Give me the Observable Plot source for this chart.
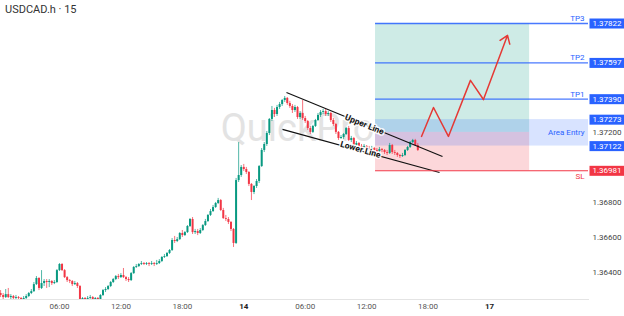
<!DOCTYPE html>
<html><head><meta charset="utf-8">
<script src="https://cdn.jsdelivr.net/npm/d3@7"></script>
<script src="https://cdn.jsdelivr.net/npm/@observablehq/plot@0.6"></script>
<style>
body{margin:0;background:#fff;}
#wrap{position:relative;width:624px;height:316px;font-family:Roboto,sans-serif;}
#title{position:absolute;left:5px;top:3px;font-size:11px;color:#333;z-index:2;}
</style></head><body>
<div id="wrap"><div id="title">USDCAD.h · 15</div></div>
<script>
// ---- chart values ----
const firstBarHour = 0.25;   // 00:15 on the 13th
const barHours = 0.25;       // 15-minute bars
const firstOpen = 1.36280;
const close = [
1.36269,1.36257,1.36274,1.36257,1.36263,1.36252,1.36257,1.36252,1.36246,1.36252,
1.36263,1.36280,1.36291,1.36331,1.36366,1.36309,1.36337,1.36349,1.36343,1.36349,
1.36337,1.36343,1.36411,1.36446,1.36411,1.36371,1.36354,1.36349,1.36331,1.36337,
1.36320,1.36246,1.36252,1.36246,1.36252,1.36257,1.36246,1.36252,1.36246,1.36269,
1.36297,1.36303,1.36320,1.36343,1.36360,1.36377,1.36371,1.36383,1.36371,1.36360,
1.36354,1.36394,1.36429,1.36434,1.36446,1.36451,1.36446,1.36451,1.36446,1.36451,
1.36446,1.36451,1.36463,1.36486,1.36491,1.36509,1.36526,1.36583,1.36577,1.36588,
1.36623,1.36611,1.36628,1.36663,1.36703,1.36628,1.36634,1.36623,1.36640,1.36668,
1.36691,1.36726,1.36748,1.36771,1.36794,1.36811,1.36754,1.36708,1.36703,1.36686,
1.36646,1.36566,1.36925,1.36954,1.37000,1.36988,1.36971,1.36903,1.36857,1.36891,
1.36920,1.37005,1.37097,1.37131,1.37194,1.37274,1.37325,1.37302,1.37342,1.37359,
1.37382,1.37394,1.37365,1.37348,1.37325,1.37342,1.37285,1.37308,1.37279,1.37262,
1.37222,1.37200,1.37234,1.37268,1.37297,1.37314,1.37319,1.37302,1.37308,1.37268,
1.37245,1.37200,1.37165,1.37171,1.37188,1.37222,1.37154,1.37165,1.37125,1.37137,
1.37120,1.37114,1.37120,1.37108,1.37102,1.37108,1.37097,1.37091,1.37102,1.37097,
1.37085,1.37080,1.37125,1.37085,1.37080,1.37068,1.37062,1.37068,1.37097,1.37114,
1.37142,1.37154,1.37125,1.37097
];
const high = [
1.36297,1.36280,1.36303,1.36309,1.36274,1.36269,1.36269,1.36263,1.36257,1.36263,
1.36274,1.36286,1.36303,1.36343,1.36377,1.36371,1.36411,1.36360,1.36360,1.36360,
1.36354,1.36354,1.36417,1.36451,1.36451,1.36417,1.36377,1.36360,1.36354,1.36349,
1.36343,1.36326,1.36257,1.36257,1.36263,1.36269,1.36263,1.36257,1.36257,1.36274,
1.36303,1.36314,1.36326,1.36349,1.36366,1.36383,1.36389,1.36394,1.36423,1.36377,
1.36371,1.36400,1.36434,1.36446,1.36451,1.36463,1.36457,1.36457,1.36457,1.36463,
1.36457,1.36469,1.36474,1.36491,1.36503,1.36514,1.36531,1.36594,1.36606,1.36600,
1.36628,1.36640,1.36634,1.36668,1.36708,1.36714,1.36646,1.36646,1.36651,1.36674,
1.36703,1.36731,1.36760,1.36783,1.36800,1.36823,1.36817,1.36766,1.36726,1.36714,
1.36691,1.36651,1.36937,1.37142,1.37011,1.37017,1.37000,1.36977,1.36908,1.36897,
1.36931,1.37011,1.37108,1.37142,1.37205,1.37279,1.37348,1.37337,1.37354,1.37371,
1.37388,1.37405,1.37399,1.37377,1.37359,1.37354,1.37348,1.37319,1.37382,1.37291,
1.37268,1.37234,1.37240,1.37274,1.37308,1.37325,1.37331,1.37331,1.37319,1.37314,
1.37279,1.37251,1.37205,1.37182,1.37194,1.37228,1.37234,1.37177,1.37171,1.37148,
1.37142,1.37131,1.37131,1.37125,1.37120,1.37120,1.37114,1.37108,1.37114,1.37108,
1.37102,1.37097,1.37137,1.37131,1.37097,1.37085,1.37074,1.37080,1.37102,1.37120,
1.37148,1.37160,1.37160,1.37137
];
const low = [
1.36257,1.36246,1.36252,1.36252,1.36246,1.36246,1.36246,1.36246,1.36246,1.36246,
1.36246,1.36257,1.36274,1.36286,1.36326,1.36297,1.36303,1.36320,1.36309,1.36314,
1.36326,1.36331,1.36337,1.36406,1.36406,1.36366,1.36343,1.36337,1.36320,1.36326,
1.36309,1.36246,1.36246,1.36246,1.36246,1.36246,1.36246,1.36246,1.36246,1.36246,
1.36263,1.36286,1.36297,1.36314,1.36337,1.36354,1.36360,1.36366,1.36366,1.36349,
1.36343,1.36349,1.36389,1.36423,1.36429,1.36440,1.36440,1.36440,1.36434,1.36440,
1.36434,1.36440,1.36446,1.36457,1.36480,1.36486,1.36503,1.36520,1.36566,1.36571,
1.36583,1.36600,1.36606,1.36623,1.36657,1.36617,1.36617,1.36611,1.36617,1.36634,
1.36663,1.36686,1.36720,1.36743,1.36766,1.36788,1.36748,1.36703,1.36691,1.36674,
1.36634,1.36543,1.36560,1.36914,1.36943,1.36977,1.36960,1.36891,1.36811,1.36845,
1.36880,1.36908,1.37000,1.37085,1.37120,1.37182,1.37262,1.37285,1.37291,1.37331,
1.37348,1.37371,1.37354,1.37337,1.37308,1.37314,1.37274,1.37274,1.37268,1.37251,
1.37211,1.37188,1.37194,1.37228,1.37262,1.37285,1.37302,1.37291,1.37291,1.37257,
1.37234,1.37188,1.37154,1.37160,1.37160,1.37182,1.37148,1.37142,1.37114,1.37120,
1.37108,1.37102,1.37108,1.37097,1.37091,1.37097,1.37085,1.37080,1.37085,1.37085,
1.37074,1.37068,1.37074,1.37074,1.37068,1.37057,1.37051,1.37057,1.37062,1.37091,
1.37108,1.37137,1.37120,1.37091
];

// trade setup
const levelNames = ["TP3", "TP2", "TP1"];
const levelPrices = [1.37822, 1.37597, 1.37390];
const entryTop = 1.37273;
const entryPrice = 1.37200;
const entryBottom = 1.37122;
const stopPrice = 1.36981;
const zoneStartHour = 36.87;
const zoneEndHour = 51.92;

// channel lines (hour, price)
const upperLine = {t1: 28.17, p1: 1.37428, t2: 43.41, p2: 1.37062};
const lowerLine = {t1: 27.78, p1: 1.37217, t2: 43.12, p2: 1.36971};
const upperLabel = {t: 35.79, p: 1.37245, text: "Upper Line"};
const lowerLabel = {t: 35.40, p: 1.37102, text: "Lower Line"};

// projected path
const pathHours  = [41.36, 42.53, 43.99, 46.14, 47.41, 49.76];
const pathPrices = [1.37177, 1.37342, 1.37177, 1.37497, 1.37388, 1.37754];

// axis
const xTicks = [6, 12, 18, 24, 30, 36, 42, 48];
const xTickLabels = ["06:00", "12:00", "18:00", "14", "06:00", "12:00", "18:00", "17"];
const xDayTicks = [24, 48];
const yTicks = [1.364, 1.366, 1.368, 1.372];
const watermark = {t: 29.25, p: 1.37222, text: "QuickPro"};

// ---- build ----
const xDomain = [0.24, 57.67];
const yDomain = [1.36246, 1.37953];
const GREEN = "#089981", RED = "#f23645", BLUE = "#2962ff";

const candles = close.map((c, i) => ({
  t: firstBarHour + i * barHours,
  o: i ? close[i - 1] : firstOpen,
  c, h: high[i], l: low[i]
}));
const col = d => d.c >= d.o ? GREEN : RED;
const levels = levelPrices.map((p, i) => ({p, name: levelNames[i]}));
const path = pathHours.map((t, i) => ({t, p: pathPrices[i]}));
const lastLeg = [{t1: pathHours[4], p1: pathPrices[4], t2: pathHours[5], p2: pathPrices[5]}];
const zones = [
  {x1: zoneStartHour, x2: zoneEndHour, y1: entryPrice, y2: levelPrices[0], fill: GREEN, op: 0.2},
  {x1: zoneStartHour, x2: zoneEndHour, y1: stopPrice, y2: entryPrice, fill: RED, op: 0.2},
  {x1: zoneStartHour, x2: xDomain[1], y1: entryBottom, y2: entryTop, fill: BLUE, op: 0.18}
];
const blueBoxes = [...levelPrices, entryTop, entryBottom].map(p => ({p}));
const redBoxes = [{p: stopPrice}];
const tickLabel = d => xTickLabels[xTicks.indexOf(d)];

const chart = Plot.plot({
  width: 624, height: 316,
  marginLeft: 0, marginRight: 36, marginTop: 0, marginBottom: 17,
  x: {domain: xDomain, axis: null},
  y: {domain: yDomain, axis: null},
  style: {fontFamily: "Roboto, sans-serif", fontSize: "8px", background: "#fff", overflow: "visible"},
  marks: [
    Plot.text([watermark], {x: "t", y: "p", text: "text", fontSize: 38, fill: "#e3e3e3"}),
    Plot.rect(zones, {x1: "x1", x2: "x2", y1: "y1", y2: "y2", fill: d => d.fill, fillOpacity: d => d.op}),
    Plot.frame({anchor: "bottom", stroke: "#e4e4e4"}),
    Plot.ruleX(candles, {x: "t", y1: "l", y2: "h", stroke: col, strokeOpacity: 0.7, strokeWidth: 1}),
    Plot.ruleX(candles, {x: "t", y1: "o", y2: "c", stroke: col, strokeWidth: 2}),
    Plot.link([upperLine, lowerLine], {x1: "t1", y1: "p1", x2: "t2", y2: "p2", stroke: "#111", strokeWidth: 1.2}),
    Plot.text([upperLabel], {x: "t", y: "p", text: "text", rotate: 22, fontSize: 8.5, fontWeight: "bold", fill: "#111", stroke: "#fff", strokeWidth: 3, strokeOpacity: 0.85}),
    Plot.text([lowerLabel], {x: "t", y: "p", text: "text", rotate: 16, fontSize: 8.5, fontWeight: "bold", fill: "#111", stroke: "#fff", strokeWidth: 3, strokeOpacity: 0.85}),
    Plot.ruleY(levels, {y: "p", x1: zoneStartHour, x2: xDomain[1], stroke: BLUE, strokeWidth: 1.4, strokeOpacity: 0.85}),
    Plot.ruleY([stopPrice], {y: d => d, x1: zoneStartHour, x2: xDomain[1], stroke: RED, strokeWidth: 1.2}),
    Plot.line(path.slice(0, 5), {x: "t", y: "p", stroke: "#e53935", strokeWidth: 1.5}),
    Plot.arrow(lastLeg, {x1: "t1", y1: "p1", x2: "t2", y2: "p2", stroke: "#e53935", strokeWidth: 1.5, headLength: 9, headAngle: 70}),
    Plot.text(levels, {y: "p", text: "name", frameAnchor: "right", textAnchor: "end", dx: -4, dy: -5, fill: BLUE, fontSize: 8}),
    Plot.text([entryPrice], {y: d => d, text: () => "Area Entry", frameAnchor: "right", textAnchor: "end", dx: -4, fill: BLUE, fontSize: 8}),
    Plot.text([stopPrice], {y: d => d, text: () => "SL", frameAnchor: "right", textAnchor: "end", dx: -4, dy: 6, fill: RED, fontSize: 8}),
    Plot.axisY({anchor: "right", ticks: yTicks, tickSize: 0, tickPadding: 4, tickFormat: d => d.toFixed(5), color: "#444", fontSize: 8, label: null}),
    Plot.axisX({ticks: xTicks.filter(d => !xDayTicks.includes(d)), tickFormat: tickLabel, tickSize: 0, tickPadding: 4, color: "#555", fontSize: 8, label: null}),
    Plot.axisX({ticks: xDayTicks, tickFormat: tickLabel, tickSize: 0, tickPadding: 4, color: "#222", fontWeight: "bold", fontSize: 8, label: null}),
    Plot.text(blueBoxes, {y: "p", text: d => d.p.toFixed(5), frameAnchor: "right", textAnchor: "start", dx: 4, fill: "#fff", fontSize: 8, className: "pbox-blue"}),
    Plot.text(redBoxes, {y: "p", text: d => d.p.toFixed(5), frameAnchor: "right", textAnchor: "start", dx: 4, fill: "#fff", fontSize: 8, className: "pbox-red"})
  ]
});
document.getElementById("wrap").append(chart);

// label backgrounds behind the price tags
for (const [cls, color] of [["pbox-blue", BLUE], ["pbox-red", RED]]) {
  chart.querySelectorAll(`.${cls} text`).forEach(t => {
    const b = t.getBBox();
    const r = document.createElementNS("http://www.w3.org/2000/svg", "rect");
    r.setAttribute("x", b.x - 3);
    r.setAttribute("y", b.y - 0.5);
    r.setAttribute("width", b.width + 6);
    r.setAttribute("height", b.height + 1);
    r.setAttribute("fill", color);
    if (t.getAttribute("transform")) r.setAttribute("transform", t.getAttribute("transform"));
    t.parentNode.insertBefore(r, t);
  });
}
</script>
</body></html>
